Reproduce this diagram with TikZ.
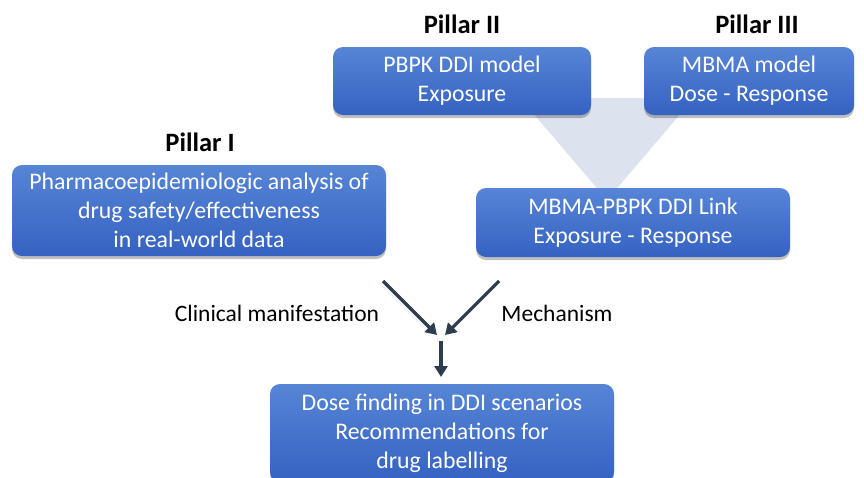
\documentclass[tikz,border=0pt]{standalone}
\usepackage{fontspec}
\setmainfont{Carlito}
\usetikzlibrary{arrows.meta,shadows}
\definecolor{BoxTop}{HTML}{5685D6}
\definecolor{BoxBottom}{HTML}{3562C1}
\definecolor{Funnel}{HTML}{DDE3EE}
\definecolor{ArrowInk}{HTML}{2E3D4D}

\begin{document}
\begin{tikzpicture}[x=1pt,y=-1pt,
  pillarbox/.style={rounded corners=10pt,top color=BoxTop,bottom color=BoxBottom,
   align=center,inner sep=2pt,text=white,
   font=\fontsize{23.8}{28.8}\selectfont,
   drop shadow={shadow xshift=0pt,shadow yshift=-3pt,opacity=.25,fill=black}},
  pillartitle/.style={font=\fontsize{26.5}{30}\selectfont\bfseries},
  armlabel/.style={font=\fontsize{23.5}{27}\selectfont},
  flowarrow/.style={-{Triangle[length=11pt,width=13pt]},line width=3.2pt,draw=ArrowInk}]
  \useasboundingbox (0,0) rectangle (864,477);
  % funnel behind the pillar II/III boxes
  \fill[Funnel] (520,98) -- (694,98) -- (607,200) -- cycle;
  \node[pillartitle] (titletwo) at (462,24) {Pillar II};
  \node[pillartitle] (titlethree) at (757,24) {Pillar III};
  \node[pillartitle] (titleone) at (200,142) {Pillar I};
  \node[pillarbox,minimum width=258pt,minimum height=68pt] (pbpk) at (462,81)
    {PBPK DDI model\\Exposure};
  \node[pillarbox,minimum width=210pt,minimum height=68pt] (mbma) at (749,81)
    {MBMA model\\Dose - Response};
  \node[pillarbox,minimum width=374pt,minimum height=91pt] (pharmaco) at (199,210.5)
    {Pharmacoepidemiologic analysis of\\drug safety/effectiveness\\in real-world data};
  \node[pillarbox,minimum width=314pt,minimum height=69pt] (link) at (633,222.5)
    {MBMA-PBPK DDI Link\\Exposure - Response};
  \node[pillarbox,minimum width=344pt,minimum height=98pt] (dose) at (442,433)
    {Dose finding in DDI scenarios\\Recommendations for\\drug labelling};
  \coordinate (clinstart) at (383,281);
  \coordinate (mechstart) at (499,281);
  \coordinate (clinend) at (437,335);
  \coordinate (mechend) at (445,335);
  \coordinate (downstart) at (441,341);
  \coordinate (downend) at (441,377);
  \draw[flowarrow] (clinstart) -- (clinend);
  \draw[flowarrow] (mechstart) -- (mechend);
  \draw[flowarrow] (downstart) -- (downend);
  \node[armlabel] (clinical) at (277,313) {Clinical manifestation};
  \node[armlabel] (mechanism) at (557,313) {Mechanism};
\end{tikzpicture}
\end{document}
